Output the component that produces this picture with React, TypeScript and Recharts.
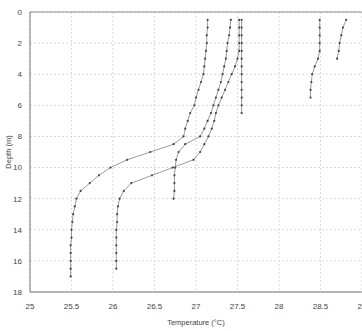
import { ScatterChart, Scatter, XAxis, YAxis, CartesianGrid, ReferenceLine, Label } from "recharts"

// depth (m) and temperature (°C) for each profile
const depthA = [0.5, 1, 1.5, 2, 2.5, 3, 3.5, 4, 4.5, 5, 5.5, 6, 6.5, 7, 7.5, 8, 8.5, 9, 9.5, 10, 10.5, 11, 11.5, 12, 12.5, 13, 13.5, 14, 14.5, 15, 15.5, 16, 16.5, 17]
const tempA = [27.14, 27.14, 27.13, 27.13, 27.12, 27.11, 27.1, 27.09, 27.06, 27.03, 27.0, 26.98, 26.93, 26.9, 26.87, 26.85, 26.73, 26.45, 26.17, 25.97, 25.83, 25.72, 25.61, 25.56, 25.54, 25.52, 25.51, 25.5, 25.5, 25.49, 25.49, 25.49, 25.49, 25.49]

const depthB = [0.5, 1, 1.5, 2, 2.5, 3, 3.5, 4, 4.5, 5, 5.5, 6, 6.5, 7, 7.5, 8, 8.5, 9, 9.5, 10, 10.5, 11, 11.5, 12]
const tempB = [27.42, 27.41, 27.4, 27.38, 27.37, 27.36, 27.34, 27.32, 27.3, 27.27, 27.24, 27.21, 27.18, 27.14, 27.1, 27.05, 26.87, 26.79, 26.76, 26.75, 26.74, 26.74, 26.74, 26.73]

const depthC = [0.5, 1, 1.5, 2, 2.5, 3, 3.5, 4, 4.5, 5, 5.5, 6, 6.5, 7, 7.5, 8, 8.5, 9, 9.5, 10, 10.5, 11, 11.5, 12, 12.5, 13, 13.5, 14, 14.5, 15, 15.5, 16, 16.5]
const tempC = [27.52, 27.52, 27.52, 27.52, 27.52, 27.5, 27.47, 27.43, 27.39, 27.35, 27.31, 27.27, 27.24, 27.22, 27.19, 27.15, 27.1, 27.05, 26.97, 26.72, 26.47, 26.22, 26.13, 26.08, 26.06, 26.05, 26.05, 26.04, 26.04, 26.04, 26.04, 26.04, 26.04]

const depthD = [0.5, 1, 1.5, 2, 2.5, 3, 3.5, 4, 4.5, 5, 5.5, 6, 6.5]
const tempD = [27.55, 27.55, 27.55, 27.55, 27.55, 27.55, 27.55, 27.55, 27.55, 27.55, 27.55, 27.55, 27.55]

const depthE = [0.5, 1, 1.5, 2, 2.5, 3, 3.5, 4, 4.5, 5, 5.5]
const tempE = [28.49, 28.49, 28.49, 28.49, 28.49, 28.47, 28.43, 28.4, 28.39, 28.38, 28.38]

const depthF = [0.5, 1, 1.5, 2, 2.5, 3]
const tempF = [28.81, 28.77, 28.75, 28.73, 28.72, 28.7]

const xTicks = [25, 25.5, 26, 26.5, 27, 27.5, 28, 28.5, 29]
const yTicks = [0, 2, 4, 6, 8, 10, 12, 14, 16, 18]

const profiles = [
  [depthA, tempA],
  [depthB, tempB],
  [depthC, tempC],
  [depthD, tempD],
  [depthE, tempE],
  [depthF, tempF],
].map(([d, t]) => d.map((depth, i) => ({ t: t[i], d: depth })))

const font = "'Liberation Sans', Arial, sans-serif"

const Dot = (props: any) => <circle cx={props.cx} cy={props.cy} r={1.1} fill="#444" />

// plain tick so the last label is clipped at the edge like the original
const XTick = (props: any) => (
  <text x={props.x} y={props.y + 9} textAnchor="middle" fontSize={8} fill="#444" fontFamily={font}>
    {props.payload.value}
  </text>
)

export default function App() {
  return (
    <div style={{ position: "absolute", left: 0, top: 0, background: "#fff" }}>
      <ScatterChart width={362} height={331} margin={{ top: 12, right: 0, bottom: 6, left: 0 }}>
        <CartesianGrid stroke="#c8c8c8" strokeDasharray="2 2" strokeWidth={0.7} />
        <ReferenceLine y={0} stroke="#777" strokeWidth={0.8} />
        <XAxis
          type="number"
          dataKey="t"
          domain={[25, 29]}
          ticks={xTicks}
          allowDataOverflow
          interval={0}
          stroke="#777"
          tickLine={false}
          tick={<XTick />}
          height={33}
        >
          <Label value="Temperature (°C)" position="insideBottom" offset={0} style={{ fontSize: 7.5, fill: "#444", fontFamily: font }} />
        </XAxis>
        <YAxis
          type="number"
          dataKey="d"
          reversed
          domain={[0, 18]}
          ticks={yTicks}
          allowDataOverflow
          stroke="#777"
          tickLine={false}
          width={30}
          tick={{ fontSize: 8, fill: "#444", fontFamily: font }}
        >
          <Label value="Depth (m)" angle={-90} position="insideLeft" offset={8} style={{ fontSize: 7.5, fill: "#444", fontFamily: font, textAnchor: "middle" }} />
        </YAxis>
        {profiles.map((p, i) => (
          <Scatter
            key={i}
            data={p}
            line={{ stroke: "#808080", strokeWidth: 0.8 }}
            shape={Dot}
            isAnimationActive={false}
          />
        ))}
      </ScatterChart>
    </div>
  )
}
